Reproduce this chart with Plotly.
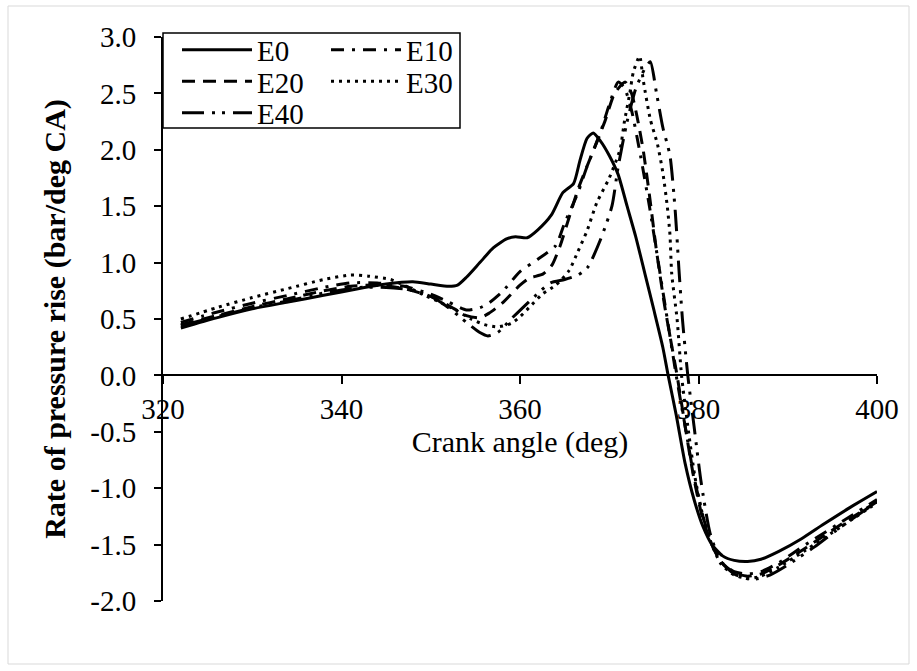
import plotly.graph_objects as go

# ---------------- data ----------------
e0_x = [322, 326, 330, 334, 338, 342, 345, 348, 350, 352, 353, 354, 355.5, 357, 358.5, 359.5,
        360.8, 362, 363.5, 364.8, 366, 366.7, 367.5, 368.2, 369, 370, 371, 372, 373, 374, 375,
        376, 376.6, 377.5, 378.5, 379.5, 380.5, 381.5, 382.7, 384, 385.5, 387, 389, 391.5, 394,
        397, 400]
e0_y = [0.42, 0.51, 0.59, 0.65, 0.71, 0.77, 0.81, 0.83, 0.81, 0.79, 0.80, 0.87, 1.00, 1.13, 1.21,
        1.23, 1.22, 1.29, 1.42, 1.62, 1.70, 1.90, 2.10, 2.15, 2.08, 1.95, 1.78, 1.50, 1.22, 0.90,
        0.58, 0.25, 0.00, -0.35, -0.78, -1.10, -1.34, -1.50, -1.60, -1.64, -1.65, -1.63, -1.56,
        -1.45, -1.32, -1.17, -1.03]

e10_x = [322, 326, 330, 334, 338, 341, 344, 347, 350, 352, 354, 355.5, 356.5, 358, 360, 362, 364,
         365, 366.5, 367.5, 369, 370, 371, 371.7, 372.5, 373.5, 374.5, 375.5, 376.5, 377.5, 378.5,
         379.5, 380.5, 381.5, 382.5, 384, 385.5, 387, 389, 392, 396, 400]
e10_y = [0.47, 0.56, 0.64, 0.71, 0.78, 0.82, 0.82, 0.79, 0.72, 0.65, 0.58, 0.60, 0.64, 0.74, 0.92,
         1.03, 1.15, 1.35, 1.62, 1.85, 2.15, 2.40, 2.60, 2.55, 2.35, 1.95, 1.50, 1.00, 0.50, 0.00,
         -0.45, -0.90, -1.25, -1.50, -1.65, -1.74, -1.76, -1.74, -1.66, -1.50, -1.30, -1.10]

e20_x = [322, 326, 330, 334, 338, 341, 344, 347, 350, 352, 354, 355.5, 356.5, 358, 360, 361, 362.6,
         363.6, 364.5, 365.5, 366.5, 368, 369.5, 370.6, 371.8, 372.5, 373.1, 373.8, 374.5, 375.3,
         376.2, 376.8, 377.6, 378.6, 379.5, 380.5, 381.5, 382.5, 384, 385.5, 387, 389, 392, 396, 400]
e20_y = [0.45, 0.53, 0.61, 0.68, 0.75, 0.79, 0.80, 0.77, 0.70, 0.62, 0.53, 0.51, 0.55, 0.64, 0.80,
         0.86, 0.90, 0.98, 1.15, 1.40, 1.65, 1.95, 2.25, 2.50, 2.60, 2.50, 2.30, 2.00, 1.60, 1.10,
         0.62, 0.35, 0.00, -0.50, -0.92, -1.28, -1.50, -1.65, -1.75, -1.78, -1.76, -1.68, -1.53,
         -1.32, -1.12]

e30_x = [322, 326, 330, 334, 338, 341, 343, 345.5, 347, 349, 351, 353, 354.5, 356, 357.5, 359, 360,
         361, 362.5, 364, 365.5, 366.5, 367.5, 368.6, 370, 371.2, 371.7, 372.3, 372.7, 373.4,
         373.8, 374.6, 375.4, 376, 376.5, 376.8, 377, 377.6, 378.1, 378.8, 379.6, 380.5, 381.5,
         382.5, 384, 385.5, 387, 389, 392, 396, 400]
e30_y = [0.50, 0.60, 0.69, 0.77, 0.85, 0.89, 0.88, 0.85, 0.80, 0.72, 0.65, 0.57, 0.50, 0.45, 0.43,
         0.46, 0.52, 0.60, 0.72, 0.80, 0.93, 1.10, 1.28, 1.53, 1.75, 2.00, 2.25, 2.50, 2.69, 2.83,
         2.62, 2.27, 2.05, 1.80, 1.50, 1.25, 0.90, 0.50, 0.00, -0.45, -0.90, -1.25, -1.50, -1.67,
         -1.77, -1.80, -1.78, -1.70, -1.55, -1.34, -1.13]

e40_x = [322, 326, 330, 334, 338, 342, 345, 347.5, 350, 352, 354, 355.5, 356.4, 357.5, 359, 361.1,
         363.4, 365, 366.5, 367.6, 369, 370.3, 371, 372, 373, 374, 374.6, 375.3, 376, 376.8,
         377.4, 377.8, 378.2, 378.8, 379.5, 380.3, 381.3, 382.5, 384, 386, 388, 390, 393, 396, 400]
e40_y = [0.44, 0.52, 0.60, 0.66, 0.73, 0.78, 0.78, 0.76, 0.70, 0.60, 0.47, 0.38, 0.35, 0.38, 0.50,
         0.66, 0.82, 0.85, 0.89, 0.96, 1.20, 1.50, 1.85, 2.25, 2.55, 2.72, 2.78, 2.50, 2.20, 1.95,
         1.45, 0.95, 0.50, 0.00, -0.45, -0.95, -1.40, -1.65, -1.76, -1.81, -1.77, -1.68, -1.52,
         -1.34, -1.12]

series_names = ["E0", "E10", "E20", "E30", "E40"]
x_ticks = [320, 340, 360, 380, 400]
y_ticks = [3.0, 2.5, 2.0, 1.5, 1.0, 0.5, 0.0, -0.5, -1.0, -1.5, -2.0]
y_tick_text = ["3.0", "2.5", "2.0", "1.5", "1.0", "0.5", "0.0", "-0.5", "-1.0", "-1.5", "-2.0"]

# ---------------- styling ----------------
FONT = "Liberation Serif, Times New Roman, serif"
TICK_SIZE = 29
dash_styles = {
    "E0": "solid",
    "E10": "13px,8px,3px,8px",
    "E20": "13px,8px",
    "E30": "3px,5px",
    "E40": "22px,8px,3px,7px,3px,8px",
}

W, H = 917, 671
ML, MR, MT, MB = 163, 40, 37, 70
pw, ph = W - ML - MR, H - MT - MB

def px2paper_x(px):
    return (px - ML) / pw

def px2paper_y(py):
    return (H - MB - py) / ph

# legend slot (column x, row centre y) for each series, in pixels
legend_slot = {"E0": (177, 50), "E10": (326, 50), "E20": (177, 81.5), "E30": (326, 81.5), "E40": (177, 113)}
legend_ids = {"E0": "legend", "E10": "legend2", "E20": "legend3", "E30": "legend4", "E40": "legend5"}

data = {
    "E0": (e0_x, e0_y),
    "E10": (e10_x, e10_y),
    "E20": (e20_x, e20_y),
    "E30": (e30_x, e30_y),
    "E40": (e40_x, e40_y),
}

fig = go.Figure()
for name in series_names:
    xs, ys = data[name]
    fig.add_trace(go.Scatter(
        x=xs, y=ys, mode="lines", name=name,
        line=dict(color="black", width=3, dash=dash_styles[name], shape="spline", smoothing=0.6),
        legend=legend_ids[name],
    ))

legend_layout = {}
for name in series_names:
    lx, ly = legend_slot[name]
    legend_layout[legend_ids[name]] = dict(
        x=px2paper_x(lx), y=px2paper_y(ly), xanchor="left", yanchor="middle",
        font=dict(family=FONT, size=29, color="black"),
        bgcolor="rgba(0,0,0,0)", borderwidth=0, orientation="v",
        itemwidth=70, tracegroupgap=0,
    )

fig.update_layout(
    width=W, height=H,
    margin=dict(l=ML, r=MR, t=MT, b=MB, pad=0),
    paper_bgcolor="white", plot_bgcolor="white",
    font=dict(family=FONT, size=TICK_SIZE, color="black"),
    showlegend=True,
    **legend_layout,
    xaxis=dict(
        range=[320, 400], tickvals=x_ticks, ticktext=[str(v) for v in x_ticks],
        showgrid=False, zeroline=False,
        showline=True, linecolor="black", linewidth=2,
        ticks="outside", ticklen=8, tickwidth=1.5, tickcolor="black",
        tickfont=dict(family=FONT, size=TICK_SIZE, color="black"),
        anchor="free", position=0.4,
        title=dict(text="Crank angle (deg)", font=dict(family=FONT, size=30, color="black"), standoff=0),
    ),
    yaxis=dict(
        range=[-2.0, 3.0], tickvals=y_ticks, ticktext=y_tick_text,
        showgrid=False, zeroline=False,
        showline=True, linecolor="black", linewidth=2,
        ticks="outside", ticklen=7, tickwidth=1.5, tickcolor="black",
        tickfont=dict(family=FONT, size=TICK_SIZE, color="black"),
        ticklabelstandoff=12,
        title=dict(text="<b>Rate of pressure rise (bar/deg CA)</b>",
                   font=dict(family=FONT, size=30, color="black"), standoff=16),
    ),
    shapes=[
        # legend frame
        dict(type="rect", xref="paper", yref="paper",
             x0=px2paper_x(163), x1=px2paper_x(460), y0=px2paper_y(128), y1=px2paper_y(33),
             line=dict(color="black", width=1.5), fillcolor="white", layer="below"),
        # chart-area border
        dict(type="rect", xref="paper", yref="paper",
             x0=px2paper_x(8), x1=px2paper_x(909), y0=px2paper_y(664), y1=px2paper_y(6),
             line=dict(color="#d9d9d9", width=1), layer="below"),
    ],
)

fig.write_html("out.html")
